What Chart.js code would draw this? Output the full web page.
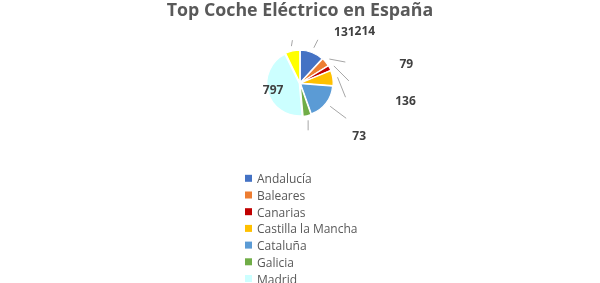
<!DOCTYPE html>
<html>
<head>
<meta charset="utf-8">
<script src="https://cdn.jsdelivr.net/npm/chart.js@4/dist/chart.umd.min.js"></script>
<style>
  html, body { margin: 0; padding: 0; background: #ffffff; }
  #wrap { position: relative; width: 600px; height: 283px; overflow: hidden; }
  canvas { display: block; }
</style>
</head>
<body>
<div id="wrap"><canvas id="c" width="600" height="283"></canvas></div>
<script>
// ---- data ----
const categories = ['Andalucía', 'Baleares', 'Canarias', 'Castilla la Mancha', 'Cataluña', 'Galicia', 'Madrid', 'Comunidad Valenciana'];
const values = [214, 79, 45, 136, 330, 73, 797, 131];
const sliceColors = ['#4472C4', '#ED7D31', '#C00000', '#FFC000', '#5B9BD5', '#70AD47', '#CCFFFF', '#FFFF00'];
const labelShown = [true, true, false, true, false, true, true, true];
const legendCount = 7;
const chartTitle = 'Top Coche Eléctrico en España';

// ---- label placement styling (relative offsets, not data) ----
const labelStyle = [
  { lead: [4, -8],  text: [47, -8] },   // Andalucía
  { lead: [16, 3],  text: [61, 3] },    // Baleares
  { lead: [15, 15], text: null },       // Canarias
  { lead: [8, 20],  text: [60, 4] },    // Castilla la Mancha
  { lead: [16, 12], text: null },       // Cataluña
  { lead: [0, 10],  text: [51, 6] },    // Galicia
  { inside: 0.78 },                     // Madrid
  { lead: [1, -6],  text: [52, -8] }    // 8th slice
];

const pieLabels = {
  id: 'pieLabels',
  afterDatasetsDraw(chart) {
    const ctx = chart.ctx;
    const meta = chart.getDatasetMeta(0);
    ctx.save();
    ctx.font = 'bold 12px "Open Sans"';
    ctx.fillStyle = '#404040';
    ctx.textAlign = 'center';
    ctx.textBaseline = 'middle';
    meta.data.forEach((arc, i) => {
      const p = arc.getProps(['x', 'y', 'startAngle', 'endAngle', 'outerRadius'], true);
      const off = arc.options.offset || 0;
      const mid = (p.startAngle + p.endAngle) / 2;
      const dx = Math.cos(mid), dy = Math.sin(mid);
      const st = labelStyle[i];
      const txt = String(chart.data.datasets[0].data[i]);
      if (st.inside) {
        const r = p.outerRadius * st.inside + off;
        if (labelShown[i]) ctx.fillText(txt, p.x + dx * r, p.y + dy * r);
        return;
      }
      const r0 = p.outerRadius + off + 3;
      const sx = p.x + dx * r0, sy = p.y + dy * r0;
      const ex = sx + st.lead[0], ey = sy + st.lead[1];
      ctx.strokeStyle = '#A6A6A6';
      ctx.lineWidth = 1;
      ctx.beginPath();
      ctx.moveTo(sx, sy);
      ctx.lineTo(ex, ey);
      ctx.stroke();
      if (labelShown[i] && st.text) {
        ctx.fillText(txt, ex + st.text[0], ey + st.text[1]);
      }
    });
    ctx.restore();
  }
};

const listLegend = {
  id: 'listLegend',
  afterDraw(chart) {
    const ctx = chart.ctx;
    ctx.save();
    ctx.font = '12px "Open Sans"';
    ctx.textAlign = 'left';
    ctx.textBaseline = 'alphabetic';
    const boxX = chart.width / 2 - 55;
    const base0 = 183.3;
    const step = 16.7;
    for (let i = 0; i < legendCount; i++) {
      const b = base0 + i * step;
      ctx.fillStyle = sliceColors[i];
      ctx.fillRect(boxX, b - 8.5, 7, 7);
      ctx.fillStyle = '#595959';
      ctx.fillText(categories[i], boxX + 12, b);
    }
    ctx.restore();
  }
};

new Chart(document.getElementById('c'), {
  type: 'pie',
  data: {
    labels: categories,
    datasets: [{
      data: values,
      backgroundColor: sliceColors,
      borderColor: '#ffffff',
      borderWidth: 1.2,
      offset: 3,
      radius: 32
    }]
  },
  options: {
    responsive: false,
    animation: false,
    events: [],
    layout: { padding: { top: 0, bottom: 141, left: 0, right: 0 } },
    plugins: {
      legend: { display: false },
      tooltip: { enabled: false },
      title: {
        display: true,
        text: chartTitle,
        color: '#595959',
        font: { family: '"Open Sans"', size: 17.8, weight: 'bold', lineHeight: 1.2 },
        padding: { top: 0, bottom: 3 }
      }
    }
  },
  plugins: [pieLabels, listLegend]
});
</script>
</body>
</html>
